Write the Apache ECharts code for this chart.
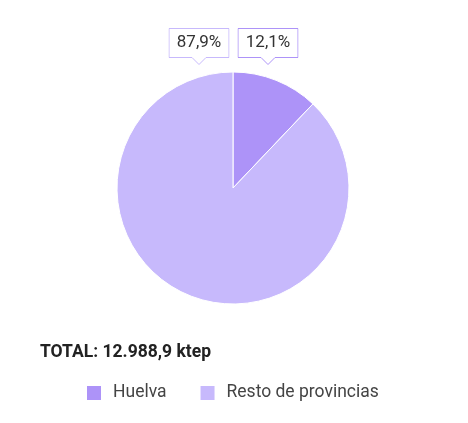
<!DOCTYPE html>
<html>
<head>
<meta charset="utf-8">
<script src="https://cdn.jsdelivr.net/npm/echarts@6/dist/echarts.min.js"></script>
<style>html,body{margin:0;padding:0;background:#fff}#c{width:468px;height:423px}</style>
</head>
<body>
<div id="c"></div>
<script>
const categories = ['Huelva', 'Resto de provincias'];
const shares = [12.1, 87.9];
const colors = ['#ad93f8', '#c7b9fc'];
const totalText = 'TOTAL: 12.988,9 ktep';

function callout(stroke) {
  const svg = '<svg xmlns="http://www.w3.org/2000/svg" width="61" height="37" viewBox="0 0 61 37">' +
    '<path d="M0.5,0.5 H60.5 V29.5 H37.5 L30.5,36.5 L23.5,29.5 H0.5 Z" fill="#fff" stroke="' + stroke + '" stroke-width="1"/></svg>';
  return new Promise(res => {
    const img = new Image();
    img.onload = () => res(img);
    img.onerror = () => res(img);
    img.src = 'data:image/svg+xml;charset=utf-8,' + encodeURIComponent(svg);
  });
}

Promise.all(colors.map(callout)).then(imgs => {
  const chart = echarts.init(document.getElementById('c'), null, {renderer: 'canvas'});
  const cx = 233, cy = 188;
  chart.setOption({
    animation: false,
    title: {
      text: totalText, left: 35, top: 339,
      textStyle: {fontFamily: 'Roboto', fontSize: 17.5, fontWeight: 'bold', color: '#222'}
    },
    legend: {
      data: categories, left: 80, top: 379, itemWidth: 16, itemHeight: 16, itemGap: 32,
      icon: 'rect',
      textStyle: {fontFamily: 'Roboto', fontSize: 17.5, color: '#444', padding: [0, 0, 0, 6]}
    },
    series: [{
      type: 'pie',
      center: [cx, cy],
      radius: 116,
      startAngle: 90,
      clockwise: true,
      itemStyle: {borderColor: '#fff', borderWidth: 1},
      labelLine: {show: false},
      emphasis: {disabled: true},
      data: categories.map((n, i) => ({
        name: n, value: shares[i],
        itemStyle: {color: colors[i]},
        label: {backgroundColor: {image: imgs[i]}}
      })),
      label: {
        show: true, position: 'outside',
        formatter: p => p.value.toFixed(1).replace('.', ',') + '%',
        fontFamily: 'Roboto', fontSize: 17, color: '#333',
        width: 45, overflow: 'none', align: 'center', lineHeight: 20,
        padding: [5, 8, 12, 8]
      },
      labelLayout: p => ({
        x: p.dataIndex === 0 ? cx + 35 : cx - 34,
        y: 28,
        align: 'center',
        verticalAlign: 'top'
      })
    }]
  });
});
</script>
</body>
</html>
